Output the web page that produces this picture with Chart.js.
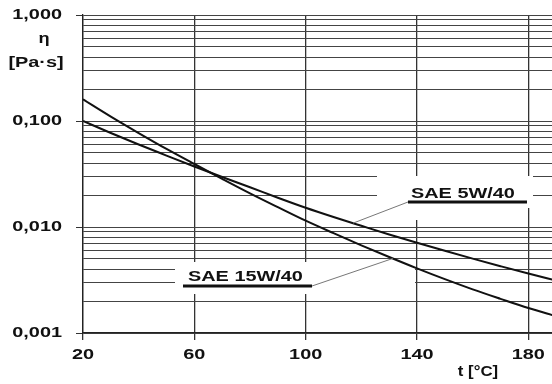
<!DOCTYPE html>
<html>
<head>
<meta charset="utf-8">
<script src="https://cdn.jsdelivr.net/npm/chart.js@4/dist/chart.umd.min.js"></script>
<style>
  html, body { margin: 0; padding: 0; background: #ffffff; }
  #c { display: block; }
</style>
</head>
<body>
<canvas id="c" width="552" height="384"></canvas>
<script>
// Temperature (°C) and dynamic viscosity (Pa·s) of two engine oils
const temperatures = [20, 30, 40, 50, 60, 70, 80, 90, 100, 110, 120, 130, 140, 150, 160, 170, 180, 190];
const sae15w40 = [0.160, 0.1100, 0.0770, 0.0545, 0.0393, 0.0285, 0.0208, 0.0154, 0.01147, 0.00874, 0.00672, 0.00521, 0.00407, 0.00322, 0.00258, 0.00210, 0.00172, 0.00144];
const sae5w40  = [0.100, 0.0770, 0.0600, 0.0472, 0.0372, 0.0296, 0.0237, 0.0189, 0.0152, 0.01243, 0.01026, 0.00849, 0.00709, 0.00596, 0.00503, 0.00427, 0.00364, 0.00313];

const xTickValues = [20, 60, 100, 140, 180];
const yDecadeValues = [0.001, 0.01, 0.1, 1];
const yDecadeLabels = ['0,001', '0,010', '0,100', '1,000'];
const yGridValues = [
  0.001, 0.002, 0.003, 0.004, 0.005, 0.006, 0.007, 0.008, 0.009,
  0.01, 0.02, 0.03, 0.04, 0.05, 0.06, 0.07, 0.08, 0.09,
  0.1, 0.2, 0.3, 0.4, 0.5, 0.6, 0.7, 0.8, 0.9, 1
];
const seriesNames = ['SAE 15W/40', 'SAE 5W/40'];
const yTitle = ['η', '[Pa·s]'];
const xTitle = 't [°C]';

const FONT = 'bold 14px "Liberation Sans", Arial, sans-serif';
const STRETCH = 1.42;

function isDecade(v) {
  return yDecadeValues.some(d => Math.abs(d - v) < d * 1e-6);
}

function wideText(ctx, str, x, y, align, sx) {
  ctx.save();
  ctx.font = FONT;
  ctx.fillStyle = '#111';
  ctx.textBaseline = 'middle';
  ctx.textAlign = align;
  ctx.translate(x, y);
  ctx.scale(sx, 1);
  ctx.fillText(str, 0, 0);
  ctx.restore();
}

// y pixel of a dataset's drawn line at a given temperature
function curveY(chart, dsIndex, t) {
  const ys = chart.scales.y;
  const vals = chart.data.datasets[dsIndex].data.map(p => p.y);
  for (let i = 0; i < temperatures.length - 1; i++) {
    if (t >= temperatures[i] && t <= temperatures[i + 1]) {
      const f = (t - temperatures[i]) / (temperatures[i + 1] - temperatures[i]);
      const y0 = ys.getPixelForValue(vals[i]), y1 = ys.getPixelForValue(vals[i + 1]);
      return y0 + (y1 - y0) * f;
    }
  }
  return ys.getPixelForValue(vals[vals.length - 1]);
}

// white backing behind the series labels, interrupting the grid
const labelBacking = {
  id: 'labelBacking',
  beforeDatasetsDraw(chart) {
    const ctx = chart.ctx;
    ctx.save();
    ctx.fillStyle = '#ffffff';
    ctx.fillRect(377, 176, 156, 32);
    ctx.fillRect(406, 176, 20, 44);
    ctx.fillRect(175, 262, 240, 32);
    ctx.restore();
  }
};

const annotations = {
  id: 'annotations',
  afterDraw(chart) {
    const ctx = chart.ctx;
    const xs = chart.scales.x, ys = chart.scales.y;

    // y tick labels (decades only)
    yDecadeValues.forEach((v, i) => {
      wideText(ctx, yDecadeLabels[i], 62, ys.getPixelForValue(v), 'right', STRETCH);
    });
    // x tick labels
    xTickValues.forEach(v => {
      wideText(ctx, String(v), xs.getPixelForValue(v), 355, 'center', STRETCH);
    });

    // axis titles
    wideText(ctx, yTitle[0], 44, 39, 'center', 1.3);
    wideText(ctx, yTitle[1], 36, 63, 'center', STRETCH);
    wideText(ctx, xTitle, 478, 372, 'center', 1.2);

    // series labels with underline and leader line
    ctx.save();
    ctx.strokeStyle = '#777';
    ctx.lineWidth = 1;
    const t5 = 117, t15 = 131.3;
    ctx.beginPath();
    ctx.moveTo(408, 202);
    ctx.lineTo(xs.getPixelForValue(t5), curveY(chart, 1, t5));
    ctx.stroke();
    ctx.beginPath();
    ctx.moveTo(312, 286);
    ctx.lineTo(xs.getPixelForValue(t15), curveY(chart, 0, t15));
    ctx.stroke();
    ctx.fillStyle = '#111';
    ctx.fillRect(408, 200.5, 119, 3);
    ctx.fillRect(183, 284.5, 129, 3);
    ctx.restore();

    wideText(ctx, seriesNames[1], 411, 194, 'left', STRETCH);
    wideText(ctx, seriesNames[0], 188, 277.5, 'left', STRETCH);
  }
};

new Chart(document.getElementById('c'), {
  type: 'line',
  data: {
    labels: temperatures,
    datasets: [
      {
        label: seriesNames[0],
        data: temperatures.map((t, i) => ({ x: t, y: sae15w40[i] })),
        borderColor: '#111',
        borderWidth: 2,
        pointRadius: 0,
        cubicInterpolationMode: 'monotone',
        fill: false
      },
      {
        label: seriesNames[1],
        data: temperatures.map((t, i) => ({ x: t, y: sae5w40[i] })),
        borderColor: '#111',
        borderWidth: 2,
        pointRadius: 0,
        cubicInterpolationMode: 'monotone',
        fill: false
      }
    ]
  },
  options: {
    responsive: false,
    animation: false,
    devicePixelRatio: 1,
    layout: { padding: { top: 15, right: 0, left: 0, bottom: 0 } },
    plugins: { legend: { display: false }, tooltip: { enabled: false } },
    scales: {
      x: {
        type: 'linear',
        min: 20,
        max: 188.5,
        afterBuildTicks(scale) { scale.ticks = xTickValues.map(v => ({ value: v })); },
        afterFit(scale) { scale.height = 51; },
        ticks: { display: false },
        grid: { color: '#333', lineWidth: 1.3, drawTicks: true, tickLength: 7, tickColor: '#333' },
        border: { display: true, color: '#222', width: 1.3 }
      },
      y: {
        type: 'logarithmic',
        min: 0.001,
        max: 1,
        afterBuildTicks(scale) { scale.ticks = yGridValues.map(v => ({ value: v })); },
        afterFit(scale) { scale.width = 83; },
        ticks: { display: false },
        grid: {
          color: '#444',
          lineWidth: 1,
          drawTicks: true,
          tickLength: 7,
          tickColor: ctx => (ctx.tick && isDecade(ctx.tick.value)) ? '#333' : 'rgba(0,0,0,0)'
        },
        border: { display: true, color: '#222', width: 1.3 }
      }
    }
  },
  plugins: [labelBacking, annotations]
});
</script>
</body>
</html>
